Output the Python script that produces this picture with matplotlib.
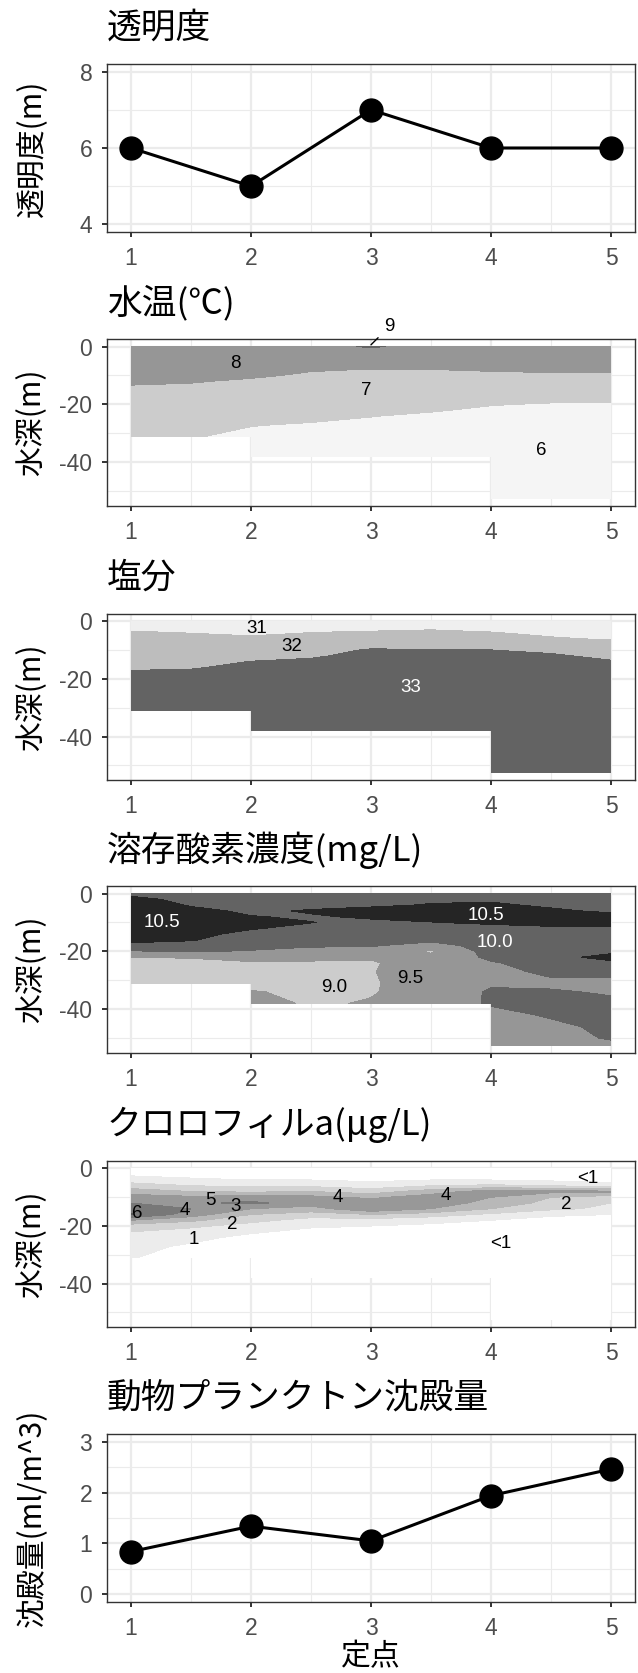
import numpy as np
import matplotlib
matplotlib.use("Agg")
import matplotlib.pyplot as plt
from matplotlib import font_manager as fm
from matplotlib.transforms import offset_copy

# ---------------- data ----------------
stations = [1, 2, 3, 4, 5]
transparency = [6, 5, 7, 6, 6]
zooplankton = [0.84, 1.34, 1.05, 1.94, 2.46]

grid_x = [1, 1.5, 2, 2.5, 3, 3.5, 4, 4.5, 5]
depths = [0, -2, -4, -6, -8, -10, -12, -14, -16, -18, -20, -22, -24, -27,
          -31, -34, -38, -42, -46, -50, -52.5]

# water temperature profiles (one list per grid_x column, down to the bottom)
temp_cols = [
    [8.1, 8.0, 7.95, 7.9, 7.85, 7.75, 7.6, 7.45, 7.3, 7.2, 7.1, 7.0, 6.9, 6.8, 6.7],
    [8.1, 8.05, 8.0, 7.9, 7.8, 7.7, 7.55, 7.4, 7.3, 7.2, 7.1, 7.0, 6.9, 6.75, 6.55],
    [8.15, 8.1, 8.0, 7.9, 7.75, 7.6, 7.4, 7.3, 7.2, 7.1, 7.0, 6.9, 6.75, 6.53, 6.35, 6.25, 6.2],
    [8.2, 8.1, 8.0, 7.8, 7.55, 7.4, 7.3, 7.2, 7.1, 7.0, 6.9, 6.8, 6.65, 6.45, 6.3, 6.2, 6.15],
    [8.6, 8.1, 7.95, 7.75, 7.48, 7.35, 7.25, 7.15, 7.05, 6.95, 6.85, 6.7, 6.52, 6.35, 6.25, 6.2, 6.15],
    [8.2, 8.1, 7.95, 7.75, 7.49, 7.35, 7.25, 7.15, 7.05, 6.9, 6.75, 6.55, 6.4, 6.3, 6.2, 6.15, 6.1],
    [8.2, 8.1, 7.95, 7.8, 7.56, 7.35, 7.2, 7.05, 6.9, 6.75, 6.53, 6.4, 6.3, 6.2, 6.15, 6.1, 6.05, 6.0, 6.0, 5.95, 5.95],
    [8.15, 8.1, 7.95, 7.8, 7.6, 7.4, 7.2, 7.0, 6.85, 6.65, 6.45, 6.35, 6.25, 6.2, 6.15, 6.1, 6.05, 6.0, 6.0, 5.95, 5.95],
    [8.15, 8.1, 7.95, 7.8, 7.6, 7.4, 7.2, 7.0, 6.85, 6.62, 6.42, 6.35, 6.25, 6.2, 6.15, 6.1, 6.05, 6.0, 6.0, 5.95, 5.95],
]
temp_levels = [5.5, 6.5, 7.5, 8.5, 9.5]
temp_colors = ["#f5f5f5", "#cccccc", "#969696", "#636363"]

salt_cols = [
    [31.1, 31.3, 31.6, 31.75, 31.9, 32.0, 32.1, 32.25, 32.4, 32.6, 32.7, 32.8, 32.85, 32.9, 32.95],
    [31.0, 31.25, 31.49, 31.7, 31.85, 31.95, 32.1, 32.25, 32.45, 32.62, 32.7, 32.8, 32.85, 32.9, 32.95],
    [31.0, 31.15, 31.35, 31.65, 31.85, 32.05, 32.3, 32.52, 32.65, 32.75, 32.8, 32.85, 32.9, 32.95, 33.0, 33.0, 33.0],
    [31.05, 31.3, 31.52, 31.75, 31.95, 32.15, 32.4, 32.65, 32.75, 32.8, 32.85, 32.9, 32.9, 32.95, 33.0, 33.0, 33.0],
    [31.1, 31.35, 31.57, 31.85, 32.2, 32.6, 32.75, 32.8, 32.85, 32.9, 32.9, 32.95, 32.95, 33.0, 33.0, 33.0, 33.0],
    [31.1, 31.4, 31.62, 31.85, 32.15, 32.55, 32.7, 32.8, 32.85, 32.9, 32.9, 32.95, 32.95, 33.0, 33.0, 33.0, 33.0],
    [31.1, 31.35, 31.53, 31.8, 32.15, 32.52, 32.7, 32.8, 32.85, 32.9, 32.9, 32.95, 32.95, 33.0, 33.0, 33.0, 33.0, 33.0, 33.0, 33.0, 33.0],
    [31.0, 31.2, 31.4, 31.55, 31.85, 32.3, 32.65, 32.75, 32.8, 32.85, 32.9, 32.9, 32.95, 32.95, 33.0, 33.0, 33.0, 33.0, 33.0, 33.0, 33.0],
    [31.0, 31.15, 31.3, 31.45, 31.7, 31.95, 32.25, 32.6, 32.75, 32.8, 32.85, 32.9, 32.9, 32.95, 33.0, 33.0, 33.0, 33.0, 33.0, 33.0, 33.0],
]
salt_levels = [30.5, 31.5, 32.5, 33.5]
salt_colors = ["#efefef", "#bdbdbd", "#636363"]

do_cols = [
    [10.1, 10.4, 10.6, 10.6, 10.6, 10.6, 10.5, 10.45, 10.35, 10.15, 9.7, 9.24, 9.0, 8.95, 8.95],
    [10.0, 10.1, 10.2, 10.4, 10.45, 10.45, 10.4, 10.35, 10.28, 10.1, 9.8, 9.3, 9.05, 8.95, 8.95],
    [10.0, 10.05, 10.1, 10.15, 10.27, 10.32, 10.28, 10.15, 10.05, 9.95, 9.7, 9.4, 9.2, 9.0, 9.0, 9.3, 9.4],
    [10.0, 10.05, 10.1, 10.3, 10.2, 10.26, 10.15, 10.05, 9.95, 9.8, 9.6, 9.35, 9.2, 9.05, 9.0, 9.1, 9.2],
    [10.05, 10.1, 10.2, 10.35, 10.32, 10.15, 10.05, 10.0, 9.95, 9.8, 9.55, 9.3, 9.2, 9.22, 9.2, 9.22, 9.28],
    [10.1, 10.2, 10.27, 10.4, 10.35, 10.24, 10.1, 10.0, 9.9, 9.5, 9.2, 9.35, 9.5, 9.55, 9.5, 9.45, 9.5],
    [10.1, 10.2, 10.3, 10.45, 10.4, 10.3, 10.15, 10.05, 10.0, 10.0, 9.95, 9.85, 9.7, 9.6, 9.7, 9.8, 9.8, 9.6, 9.55, 9.5, 9.5],
    [10.05, 10.1, 10.2, 10.3, 10.4, 10.35, 10.2, 10.05, 10.0, 10.0, 10.05, 10.1, 10.0, 9.85, 9.65, 9.8, 9.85, 9.8, 9.65, 9.55, 9.5],
    [10.0, 10.05, 10.1, 10.2, 10.35, 10.35, 10.2, 10.05, 10.0, 10.05, 10.15, 10.4, 10.15, 9.9, 9.6, 9.7, 9.85, 9.9, 9.85, 9.8, 9.6],
]
do_levels = [8.5, 9.25, 9.75, 10.25, 11.0]
do_colors = ["#cccccc", "#969696", "#636363", "#252525"]

chl_cols = [
    [0.5, 0.8, 1.5, 2.5, 3.5, 4.5, 5.0, 5.5, 6.1, 4.0, 2.5, 2.0, 1.5, 1.2, 1.05],
    [0.4, 0.6, 1.2, 2.0, 3.0, 4.2, 4.8, 5.0, 4.5, 3.2, 2.2, 1.6, 1.2, 0.9, 0.6],
    [0.3, 0.5, 1.0, 1.8, 2.8, 4.5, 5.2, 4.0, 3.0, 2.3, 1.6, 1.1, 0.8, 0.5, 0.3, 0.2, 0.2],
    [0.3, 0.5, 1.0, 1.8, 3.0, 4.3, 4.5, 3.6, 2.5, 1.6, 1.1, 0.8, 0.5, 0.3, 0.2, 0.2, 0.2],
    [0.3, 0.4, 0.8, 1.5, 2.5, 3.8, 4.6, 4.8, 3.0, 1.6, 1.0, 0.7, 0.5, 0.3, 0.2, 0.2, 0.2],
    [0.3, 0.5, 1.0, 2.0, 3.5, 4.5, 4.3, 4.0, 2.5, 1.3, 0.8, 0.5, 0.3, 0.2, 0.2, 0.2, 0.2],
    [0.3, 0.5, 1.0, 2.2, 4.5, 4.0, 3.8, 3.0, 1.8, 1.0, 0.7, 0.5, 0.3, 0.2, 0.2, 0.2, 0.2, 0.2, 0.2, 0.2, 0.2],
    [0.2, 0.4, 0.8, 2.0, 4.3, 3.0, 2.6, 2.2, 1.2, 0.6, 0.4, 0.3, 0.2, 0.2, 0.2, 0.2, 0.2, 0.2, 0.2, 0.2, 0.2],
    [0.2, 0.3, 0.6, 1.5, 4.2, 2.5, 2.0, 1.8, 1.0, 0.5, 0.3, 0.2, 0.2, 0.2, 0.2, 0.2, 0.2, 0.2, 0.2, 0.2, 0.2],
]
chl_levels = [0, 1, 2, 3, 4, 5, 6, 8]
chl_colors = ["#ffffff", "#ececec", "#d4d4d4", "#b8b8b8", "#989898", "#787878", "#585858"]

titles = ["透明度", "水温(℃)", "塩分", "溶存酸素濃度(mg/L)", "クロロフィルa(μg/L)", "動物プランクトン沈殿量"]
ylabels = ["透明度(m)", "水深(m)", "水深(m)", "水深(m)", "水深(m)", "沈殿量(ml/m^3)"]
xlabel = "定点"

# contour labels: text, colour
temp_labels = [("8", "black"), ("7", "black"), ("6", "black")]
salt_labels = [("31", "black"), ("32", "black"), ("33", "white")]
do_labels = [("10.5", "white"), ("10.5", "white"), ("10.0", "white"), ("9.5", "black"), ("9.0", "black")]
chl_labels = ["6", "4", "5", "3", "2", "1", "4", "4", "2", "<1", "<1"]

# label placements (x, depth)
temp_pos = [(1.87, -6.0), (2.96, -15.3), (4.42, -35.9)]
salt_pos = [(2.05, -2.6), (2.34, -8.8), (3.33, -22.9)]
do_pos = [(1.26, -10.0), (3.96, -7.5), (4.03, -16.9), (3.33, -29.3), (2.69, -32.6)]
chl_pos = [(1.05, -15.6), (1.45, -14.7), (1.66, -11.0), (1.87, -13.3), (1.84, -19.5),
           (1.52, -24.8), (2.72, -10.1), (3.62, -9.3), (4.63, -12.6), (4.81, -3.4), (4.08, -26.0)]

# ---------------- fonts ----------------
def pick(names):
    for n in names:
        try:
            fm.findfont(fm.FontProperties(family=n), fallback_to_default=False)
            return n
        except Exception:
            pass
    return "DejaVu Sans"

JP = "Noto Sans CJK JP"
NUM = pick(["Liberation Sans Narrow", "Liberation Sans"])
plt.rcParams["font.family"] = [JP, "DejaVu Sans"]
plt.rcParams["axes.unicode_minus"] = False

# ---------------- figure ----------------
W, H = 638, 1673
fig = plt.figure(figsize=(W / 100, H / 100), dpi=100)
left_px, right_px = 107, 635
boxes = [(64, 232), (339, 506), (614, 780), (886, 1053), (1161, 1327), (1434, 1602)]
axes = []
for top, bot in boxes:
    ax = fig.add_axes([left_px / W, 1 - bot / H, (right_px - left_px) / W, (bot - top) / H])
    axes.append(ax)


def style(ax, ylim, yticks, yminor, title, ylabel):
    ax.set_xlim(0.8, 5.2)
    ax.set_ylim(*ylim)
    ax.set_xticks(stations)
    ax.set_xticks([1.5, 2.5, 3.5, 4.5], minor=True)
    ax.set_yticks(yticks)
    ax.set_yticks(yminor, minor=True)
    ax.set_xticklabels([str(s) for s in stations], fontfamily=NUM)
    ax.set_yticklabels([str(t) for t in yticks], fontfamily=NUM)
    ax.set_axisbelow(True)
    ax.grid(which="major", color="#EBEBEB", lw=1.6)
    ax.grid(which="minor", color="#EBEBEB", lw=0.8)
    ax.tick_params(which="major", length=3.6, width=1.4, color="#333333",
                   labelsize=16.5, labelcolor="#4D4D4D", pad=7)
    ax.tick_params(which="minor", length=0)
    for sp in ax.spines.values():
        sp.set_color("#333333")
        sp.set_linewidth(1.0)
    tr = offset_copy(ax.transAxes, fig=fig, x=0, y=36, units="dots")
    ax.text(0, 1, title, transform=tr, ha="left", va="center", fontsize=25, color="black")
    ax.set_ylabel(ylabel, fontsize=21.5, color="black", va="center")
    ax.yaxis.set_label_coords(-0.142, 0.5)


def to_grid(cols):
    arr = np.full((len(depths), len(cols)), np.nan)
    for j, c in enumerate(cols):
        arr[:len(c), j] = c
    return np.ma.masked_invalid(arr)


X, Y = np.meshgrid(grid_x, depths)
dlim = (-55.1, 2.6)
dticks = [0, -20, -40]
dminor = [-10, -30, -50]

# panel 1
ax = axes[0]
ax.plot(stations, transparency, color="black", lw=2.2, marker="o", ms=16.5, zorder=3)
style(ax, (3.8, 8.2), [4, 6, 8], [5, 7], titles[0], ylabels[0])


# contour panels
def contour_panel(ax, cols, levels, colors, labels, pos, title):
    ax.contourf(X, Y, to_grid(cols), levels=levels, colors=colors, zorder=1,
                corner_mask=False, antialiased=False)
    for (txt, col), (px, py) in zip(labels, pos):
        ax.text(px, py, txt, ha="center", va="center", fontsize=13.5, color=col,
                fontfamily=[NUM, JP], zorder=4)
    style(ax, dlim, dticks, dminor, title, "水深(m)")


contour_panel(axes[1], temp_cols, temp_levels, temp_colors, temp_labels, temp_pos, titles[1])
axes[1].annotate("9", xy=(3.0, 0.6), xytext=(3.15, 6.8), ha="center", va="center",
                 fontsize=13.5, fontfamily=[NUM, JP], annotation_clip=False,
                 arrowprops=dict(arrowstyle="-", color="black", lw=1.0, shrinkA=3, shrinkB=0))
contour_panel(axes[2], salt_cols, salt_levels, salt_colors, salt_labels, salt_pos, titles[2])
contour_panel(axes[3], do_cols, do_levels, do_colors, do_labels, do_pos, titles[3])
contour_panel(axes[4], chl_cols, chl_levels, chl_colors,
              [(t, "black") for t in chl_labels], chl_pos, titles[4])

# panel 6
ax = axes[5]
ax.plot(stations, zooplankton, color="black", lw=2.2, marker="o", ms=16.5, zorder=3)
style(ax, (-0.15, 3.15), [0, 1, 2, 3], [0.5, 1.5, 2.5], titles[5], ylabels[5])
ax.set_xlabel(xlabel, fontsize=21.5, color="black", va="center")
ax.xaxis.set_label_coords(0.5, -55 / 168)

fig.savefig("out.png", dpi=100)
